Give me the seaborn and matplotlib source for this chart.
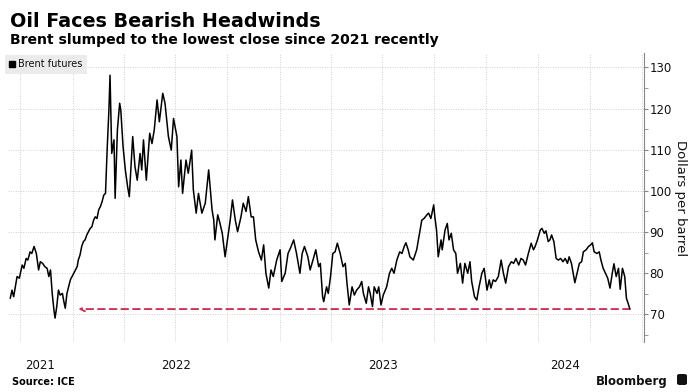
import matplotlib
matplotlib.use("Agg")
import matplotlib.pyplot as plt
import matplotlib.dates as mdates
from matplotlib.lines import Line2D
from matplotlib.patches import FancyBboxPatch
from matplotlib.ticker import MultipleLocator
import pandas as pd
import seaborn as sns

# Brent futures closes
dates_2021 = [
    "2021-09-13", "2021-09-16", "2021-09-19", "2021-09-25", "2021-09-29", "2021-10-04",
    "2021-10-07", "2021-10-11", "2021-10-14", "2021-10-18", "2021-10-21", "2021-10-25",
    "2021-10-29", "2021-11-02", "2021-11-05", "2021-11-09", "2021-11-13", "2021-11-17",
    "2021-11-20", "2021-11-23", "2021-11-26", "2021-11-29", "2021-12-01", "2021-12-04",
    "2021-12-07", "2021-12-10", "2021-12-14", "2021-12-16", "2021-12-19", "2021-12-22",
    "2021-12-25", "2021-12-28", "2021-12-31",
]
prices_2021 = [
    73.9, 75.9, 74.3, 79.2, 78.8, 82.0,
    81.2, 83.6, 83.2, 85.2, 84.8, 86.5,
    84.8, 80.8, 82.8, 82.4, 81.6, 81.2,
    79.2, 80.8, 75.1, 71.1, 69.1, 71.9,
    75.9, 74.7, 75.1, 73.5, 71.5, 75.1,
    76.7, 78.4, 79.2,
]

dates_2022 = [
    "2022-01-03", "2022-01-06", "2022-01-09", "2022-01-11", "2022-01-14", "2022-01-17",
    "2022-01-20", "2022-01-23", "2022-01-26", "2022-01-29", "2022-02-01", "2022-02-04",
    "2022-02-07", "2022-02-10", "2022-02-13", "2022-02-16", "2022-02-19", "2022-02-22",
    "2022-02-25", "2022-02-28", "2022-03-03", "2022-03-06", "2022-03-08", "2022-03-11",
    "2022-03-15", "2022-03-17", "2022-03-21", "2022-03-25", "2022-03-27", "2022-03-31",
    "2022-04-04", "2022-04-08", "2022-04-11", "2022-04-17", "2022-04-21", "2022-04-25",
    "2022-04-30", "2022-05-03", "2022-05-06", "2022-05-11", "2022-05-17", "2022-05-21",
    "2022-05-25", "2022-05-30", "2022-06-03", "2022-06-09", "2022-06-13", "2022-06-19",
    "2022-06-24", "2022-06-28", "2022-07-04", "2022-07-07", "2022-07-11", "2022-07-14",
    "2022-07-20", "2022-07-24", "2022-07-30", "2022-08-02", "2022-08-07", "2022-08-11",
    "2022-08-17", "2022-08-23", "2022-08-29", "2022-09-04", "2022-09-07", "2022-09-09",
    "2022-09-14", "2022-09-18", "2022-09-22", "2022-09-27", "2022-10-02", "2022-10-06",
    "2022-10-10", "2022-10-15", "2022-10-19", "2022-10-25", "2022-10-29", "2022-11-03",
    "2022-11-07", "2022-11-12", "2022-11-16", "2022-11-20", "2022-11-25", "2022-11-30",
    "2022-12-04", "2022-12-08", "2022-12-13", "2022-12-17", "2022-12-21", "2022-12-27",
]
prices_2022 = [
    80.0, 80.8, 81.6, 83.2, 84.4, 86.5,
    87.7, 88.1, 89.3, 90.1, 90.9, 91.3,
    92.9, 93.7, 93.3, 95.4, 96.2, 97.4,
    99.0, 99.4, 110.3, 119.6, 128.1, 109.1,
    112.4, 98.2, 114.8, 121.3, 119.6, 110.7,
    105.1, 101.0, 98.6, 113.2, 105.9, 102.6,
    109.1, 105.1, 112.4, 102.6, 114.0, 111.5,
    114.8, 122.1, 116.8, 123.7, 121.3, 113.2,
    109.9, 117.6, 113.2, 101.0, 107.5, 99.4,
    107.5, 104.3, 109.9, 100.2, 94.6, 99.4,
    94.6, 97.0, 105.1, 95.4, 92.9, 88.1,
    94.2, 92.1, 89.7, 84.0, 88.9, 92.9,
    97.8, 92.9, 90.1, 93.7, 97.0, 95.0,
    98.6, 93.7, 93.7, 88.1, 85.2, 83.2,
    86.9, 80.0, 76.4, 80.8, 79.2, 83.2,
]

dates_2023 = [
    "2023-01-02", "2023-01-05", "2023-01-11", "2023-01-16", "2023-01-20", "2023-01-26",
    "2023-01-31", "2023-02-06", "2023-02-10", "2023-02-14", "2023-02-20", "2023-02-24",
    "2023-03-01", "2023-03-06", "2023-03-11", "2023-03-14", "2023-03-18", "2023-03-20",
    "2023-03-25", "2023-03-28", "2023-04-01", "2023-04-05", "2023-04-09", "2023-04-13",
    "2023-04-18", "2023-04-23", "2023-04-27", "2023-04-30", "2023-05-04", "2023-05-09",
    "2023-05-13", "2023-05-17", "2023-05-22", "2023-05-26", "2023-05-29", "2023-06-03",
    "2023-06-07", "2023-06-10", "2023-06-14", "2023-06-17", "2023-06-22", "2023-06-25",
    "2023-06-29", "2023-07-03", "2023-07-09", "2023-07-14", "2023-07-18", "2023-07-22",
    "2023-07-27", "2023-08-01", "2023-08-05", "2023-08-09", "2023-08-12", "2023-08-16",
    "2023-08-19", "2023-08-25", "2023-08-31", "2023-09-05", "2023-09-09", "2023-09-13",
    "2023-09-18", "2023-09-21", "2023-09-25", "2023-09-30", "2023-10-02", "2023-10-05",
    "2023-10-08", "2023-10-13", "2023-10-15", "2023-10-20", "2023-10-24", "2023-10-27",
    "2023-10-31", "2023-11-04", "2023-11-08", "2023-11-11", "2023-11-16", "2023-11-20",
    "2023-11-24", "2023-11-29", "2023-12-03", "2023-12-06", "2023-12-11", "2023-12-15",
    "2023-12-19", "2023-12-24", "2023-12-28",
]
prices_2023 = [
    85.7, 78.0, 80.0, 84.8, 86.0, 88.1,
    84.8, 80.0, 84.8, 86.5, 84.0, 80.8,
    83.2, 85.7, 81.6, 82.4, 74.3, 73.1,
    76.7, 75.1, 79.2, 84.8, 85.2, 87.3,
    84.8, 81.6, 82.4, 77.6, 72.3, 76.7,
    74.7, 75.9, 76.7, 78.0, 75.1, 72.7,
    76.7, 75.1, 71.9, 76.7, 75.1, 76.7,
    72.3, 74.7, 76.7, 80.0, 81.2, 80.0,
    83.2, 85.2, 84.8, 86.5, 87.4, 85.7,
    84.0, 83.2, 85.7, 89.7, 92.9, 93.3,
    94.2, 94.6, 93.3, 96.6, 93.7, 90.5,
    84.0, 88.1, 85.7, 90.5, 92.1, 88.1,
    89.7, 85.7, 84.8, 80.0, 82.4, 77.6,
    82.4, 80.0, 82.8, 78.0, 74.3, 73.5,
    76.7, 80.0, 81.2,
]

dates_2024 = [
    "2024-01-02", "2024-01-06", "2024-01-09", "2024-01-13", "2024-01-17", "2024-01-22",
    "2024-01-27", "2024-01-31", "2024-02-04", "2024-02-09", "2024-02-14", "2024-02-18",
    "2024-02-22", "2024-02-27", "2024-03-02", "2024-03-06", "2024-03-10", "2024-03-15",
    "2024-03-20", "2024-03-24", "2024-03-27", "2024-03-31", "2024-04-05", "2024-04-08",
    "2024-04-12", "2024-04-15", "2024-04-19", "2024-04-22", "2024-04-25", "2024-04-29",
    "2024-05-03", "2024-05-07", "2024-05-11", "2024-05-15", "2024-05-19", "2024-05-23",
    "2024-05-26", "2024-05-30", "2024-06-02", "2024-06-05", "2024-06-09", "2024-06-13",
    "2024-06-17", "2024-06-20", "2024-06-25", "2024-06-29", "2024-07-03", "2024-07-06",
    "2024-07-09", "2024-07-14", "2024-07-18", "2024-07-21", "2024-07-25", "2024-07-29",
    "2024-08-02", "2024-08-06", "2024-08-10", "2024-08-13", "2024-08-17", "2024-08-21",
    "2024-08-24", "2024-08-28", "2024-09-01", "2024-09-04", "2024-09-07", "2024-09-10",
]
prices_2024 = [
    75.9, 78.4, 76.4, 78.4, 78.0, 79.2,
    83.2, 80.0, 77.6, 81.6, 82.8, 82.4,
    83.6, 82.0, 83.6, 83.2, 82.0, 84.8,
    87.3, 85.7, 86.5, 88.1, 90.5, 90.9,
    89.7, 90.3, 87.7, 88.1, 89.3, 87.7,
    83.6, 83.2, 83.6, 82.8, 83.6, 82.4,
    84.0, 82.4, 80.0, 77.7, 80.0, 82.4,
    82.8, 85.2, 85.7, 86.5, 86.9, 87.4,
    85.2, 84.8, 85.2, 83.2, 81.2, 80.0,
    78.8, 76.4, 80.0, 82.3, 79.2, 81.2,
    76.1, 81.2, 79.2, 73.9, 72.7, 71.3,
]

year_labels = ["2021", "2022", "2023", "2024"]
year_label_dates = ["2021-11-05", "2022-07-02", "2023-07-02", "2024-05-19"]
arrow_back_to = "2022-01-11"  # where the price was last this low

df = pd.DataFrame({
    "date": pd.to_datetime(dates_2021 + dates_2022 + dates_2023 + dates_2024),
    "price": prices_2021 + prices_2022 + prices_2023 + prices_2024,
})

sns.set_style("white")
plt.rcParams["font.family"] = ["DejaVu Sans"]

W, H = 699, 392
fig = plt.figure(figsize=(W / 100, H / 100), dpi=100)
ax = fig.add_axes([8 / W, 1 - 342 / H, (644 - 8) / W, (342 - 53) / H])

sns.lineplot(data=df, x="date", y="price", ax=ax, color="black", linewidth=1.1, zorder=3)

# dashed arrow from the latest close back to when it was last this low
last_date = df["date"].iloc[-1]
last_price = df["price"].iloc[-1]
ax.annotate(
    "",
    xy=(pd.Timestamp(arrow_back_to), last_price),
    xytext=(last_date, last_price),
    arrowprops=dict(arrowstyle="->", color="#c8375a", lw=1.4, linestyle=(0, (3.5, 2.5)),
                    shrinkA=0, shrinkB=0, mutation_scale=8),
    zorder=2,
)

ax.set_xlim(pd.Timestamp("2021-09-09"), pd.Timestamp("2024-10-05"))
ax.set_ylim(63.3, 133.5)

# y axis on the right
ax.yaxis.tick_right()
ax.set_yticks(range(70, 131, 10))
ax.yaxis.set_minor_locator(MultipleLocator(5))
ax.tick_params(axis="y", which="both", direction="out", length=3, color="#888888",
               labelsize=8.5, pad=1, labelcolor="#111111", right=True, left=False)
ax.set_ylabel("")
ax.set_xlabel("")

# quarter gridlines, year labels centred under each year's visible span
ax.xaxis.set_major_locator(mdates.MonthLocator(bymonth=[1, 4, 7, 10]))
ax.xaxis.set_major_formatter(plt.NullFormatter())
ax.set_xticks(pd.to_datetime(year_label_dates), minor=True)
ax.set_xticklabels(year_labels, minor=True)
ax.tick_params(axis="x", which="both", length=0, labelsize=8.5, pad=12.5, labelcolor="#111111")

ax.grid(True, axis="both", which="major", color="#cfcfcf", linestyle=(0, (1, 1.5)), linewidth=0.7)
for side in ["top", "left", "bottom"]:
    ax.spines[side].set_visible(False)
ax.spines["right"].set_color("#888888")
ax.spines["right"].set_linewidth(0.8)

leg = ax.legend(
    handles=[Line2D([], [], marker="s", color="black", linestyle="", markersize=4.5)],
    labels=["Brent futures"],
    loc="upper left", bbox_to_anchor=(-3 / 636, 1 - 2 / 289), borderaxespad=0,
    frameon=True, fancybox=False, facecolor="#ebebeb", edgecolor="none", framealpha=1,
    fontsize=7, handlelength=0.6, handletextpad=0.3, borderpad=0.45,
)
for t in leg.get_texts():
    t.set_color("#111111")

fig.text(680 / W, 1 - 198 / H, "Dollars per barrel", rotation=270, ha="center", va="center",
         fontsize=9.5, color="#111111")

fig.text(10 / W, 1 - 27 / H, "Oil Faces Bearish Headwinds", fontsize=13.8, weight="bold",
         va="baseline", color="black")
fig.text(10 / W, 1 - 44 / H, "Brent slumped to the lowest close since 2021 recently",
         fontsize=10.1, weight="bold", va="baseline", color="black")
fig.text(12 / W, 1 - 385 / H, "Source: ICE", fontsize=7, weight="bold", va="baseline",
         color="black")
fig.text(668 / W, 1 - 385 / H, "Bloomberg", fontsize=8.5, weight="bold", va="baseline",
         ha="right", color="#111111")
fig.patches.append(FancyBboxPatch((677 / W, 1 - 385 / H), 10 / W, 11 / H,
                                  boxstyle="round,pad=0,rounding_size=0.004",
                                  transform=fig.transFigure, facecolor="#111111",
                                  edgecolor="none"))

fig.savefig("out.png", dpi=100, facecolor="white")
